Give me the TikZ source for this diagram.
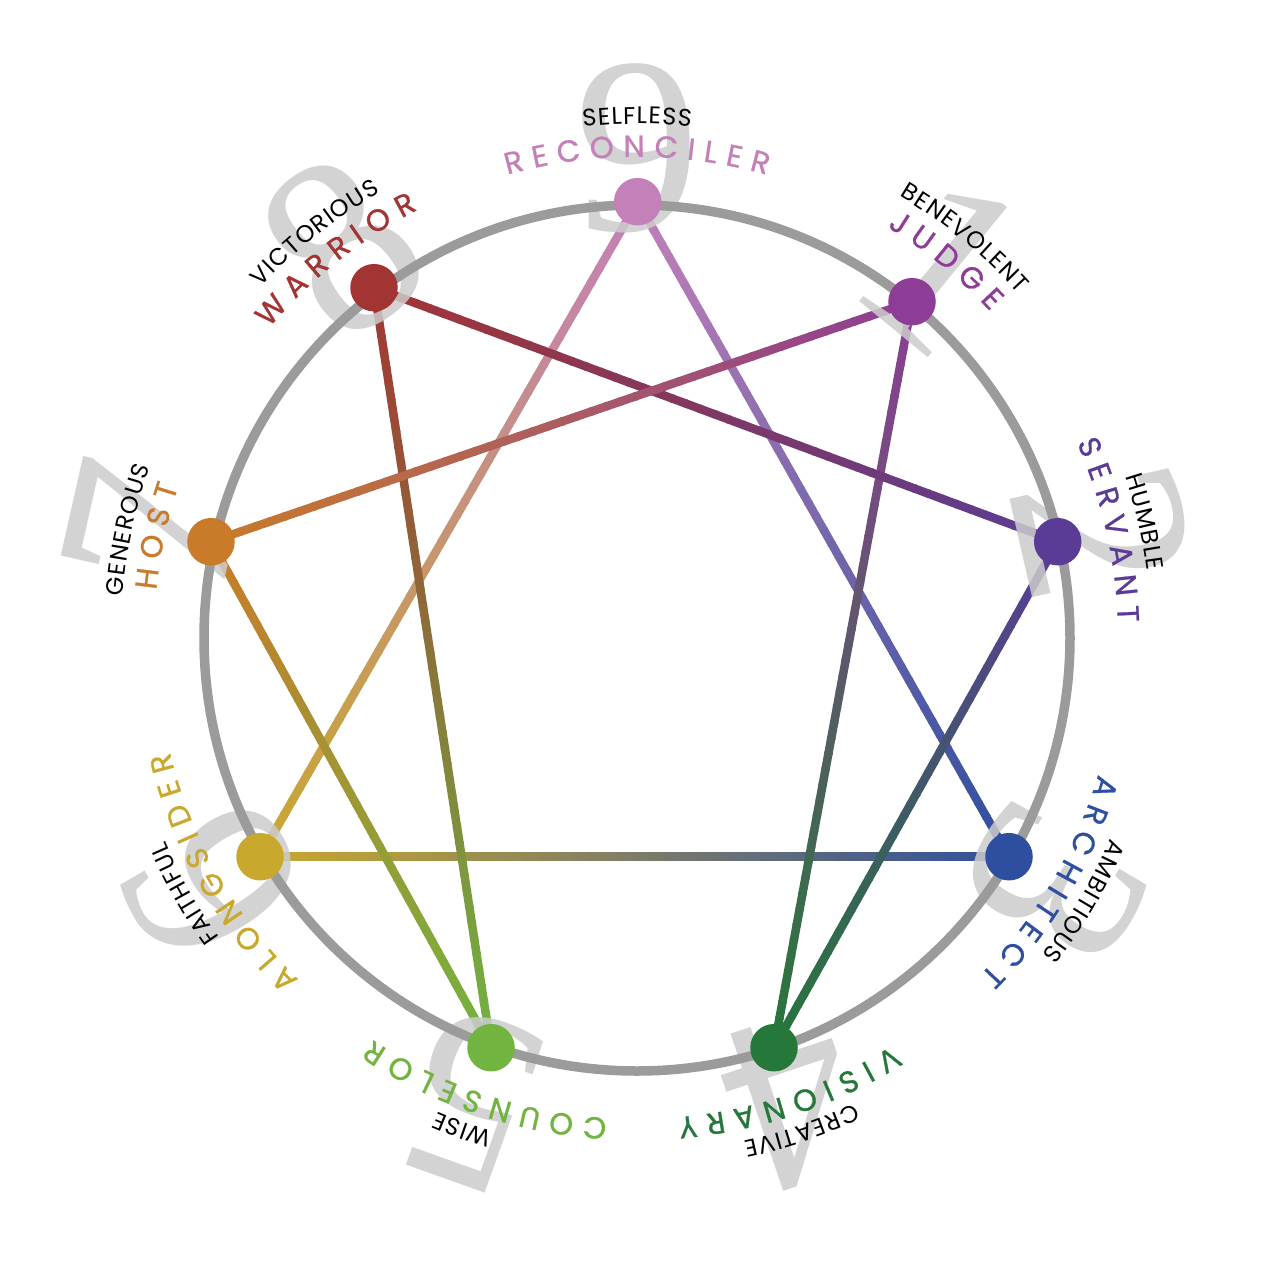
\documentclass[tikz,border=0pt]{standalone}
\usepackage{fontspec}
\setmainfont{Liberation Serif}
\usetikzlibrary{calc,decorations.text}
\newfontfamily\popf{Poppins}
\newfontfamily\popm{Poppins}[FakeBold=0.8]
\definecolor{cA}{RGB}{196,128,185}
\definecolor{cB}{RGB}{142,61,150}
\definecolor{cC}{RGB}{90,60,150}
\definecolor{cD}{RGB}{46,79,160}
\definecolor{cE}{RGB}{38,119,58}
\definecolor{cF}{RGB}{113,180,63}
\definecolor{cG}{RGB}{201,168,46}
\definecolor{cH}{RGB}{201,123,42}
\definecolor{cI}{RGB}{163,52,52}
\definecolor{ringgray}{RGB}{155,155,155}
\definecolor{diggray}{RGB}{204,204,204}
\newcommand{\mfont}{\popm\fontsize{30.5}{30.5}\selectfont}
\newcommand{\dfont}{\popf\fontsize{24}{24}\selectfont}
\newcommand{\trk}{\kern9pt}
\newcommand{\dk}{\kern1.2pt}
\tikzset{
  conn/.style={line width=8.5pt},
  ring/.style={draw=ringgray, line width=9.5pt},
  dot/.style={circle, minimum size=47.5pt, inner sep=0pt, draw=none},
  digit/.style={font={\rmfamily\fontsize{252}{252}\selectfont}, text=diggray, text opacity=0.85, inner sep=0pt}
}
\newcommand{\gradline}[4]{%
  \foreach \i in {0,...,47}{%
    \pgfmathsetmacro{\ta}{\i/48}%
    \pgfmathsetmacro{\tb}{(\i+1.15)/48}%
    \pgfmathtruncatemacro{\pc}{100-(\i+0.5)*100/48}%
    \draw[conn, draw=#3!\pc!#4] ($(#1)!\ta!(#2)$) -- ($(#1)!\tb!(#2)$);
  }}
\newcommand{\arclabel}[3]{%
  \pgfmathsetmacro{\phs}{90-#1+70}%
  \pgfmathsetmacro{\phe}{90-#1-70}%
  \path[decorate, decoration={text along path, text={#3}, text align=center}]
     ($(C)+(\phs:#2)$) arc[start angle=\phs, end angle=\phe, radius=#2];
}
\begin{document}
\begin{tikzpicture}[x=1pt,y=1pt]
\fill[white] (0,0) rectangle (1275,-1275);
\useasboundingbox (0,0) rectangle (1275,-1275);
\coordinate (C) at (637,-638);
\coordinate (p9) at (637.7,-201.7);
\coordinate (p1) at (912,-301.7);
\coordinate (p2) at (1057.7,-541.7);
\coordinate (p3) at (1009,-856.7);
\coordinate (p4) at (774,-1047.7);
\coordinate (p5) at (491,-1047.7);
\coordinate (p6) at (260,-856.7);
\coordinate (p7) at (211,-541.7);
\coordinate (p8) at (374,-287.7);
% connectors
\gradline{p9}{p3}{cA}{cD}
\gradline{p3}{p6}{cD}{cG}
\gradline{p6}{p9}{cG}{cA}
\gradline{p1}{p4}{cB}{cE}
\gradline{p4}{p2}{cE}{cC}
\gradline{p2}{p8}{cC}{cI}
\gradline{p8}{p5}{cI}{cF}
\gradline{p5}{p7}{cF}{cH}
\gradline{p7}{p1}{cH}{cB}
% digits
\node[digit] (g9) at ($(C)+(89.9:490)$) {9};
\node[digit, rotate=-39.3] (g1) at ($(C)+(50.7:484)$) {1};
\node[digit, rotate=-77.1] (g2) at ($(C)+(12.9:478)$) {2};
\node[digit, rotate=-120.5] (g3) at ($(C)+(-30.5:485)$) {3};
\node[digit, rotate=-161.5] (g4) at ($(C)+(-71.5:488)$) {4};
\node[digit, rotate=-199.6] (g5) at ($(C)+(-109.6:490)$) {5};
\node[digit, rotate=-239.9] (g6) at ($(C)+(-149.9:490)$) {6};
\node[digit, rotate=-282.7] (g7) at ($(C)+(167.3:497)$) {7};
\node[digit, rotate=-323.1] (g8) at ($(C)+(126.9:490)$) {8};
% ring
\draw[ring] (C) circle[radius=433];
% dots
\node[dot, fill=cA] (n9) at (p9) {};
\node[dot, fill=cB] (n1) at (p1) {};
\node[dot, fill=cC] (n2) at (p2) {};
\node[dot, fill=cD] (n3) at (p3) {};
\node[dot, fill=cE] (n4) at (p4) {};
\node[dot, fill=cF] (n5) at (p5) {};
\node[dot, fill=cG] (n6) at (p6) {};
\node[dot, fill=cH] (n7) at (p7) {};
\node[dot, fill=cI] (n8) at (p8) {};
% labels
\arclabel{0}{481}{|\mfont\color{cA}|R{\trk}E{\trk}C{\trk}O{\trk}N{\trk}C{\trk}I{\trk}L{\trk}E{\trk}R}
\arclabel{0}{514}{|\dfont\color{black}|S{\dk}E{\dk}L{\dk}F{\dk}L{\dk}E{\dk}S{\dk}S}
\arclabel{39.3}{481}{|\mfont\color{cB}|J{\trk}U{\trk}D{\trk}G{\trk}E}
\arclabel{39.3}{514}{|\dfont\color{black}|B{\dk}E{\dk}N{\dk}E{\dk}V{\dk}O{\dk}L{\dk}E{\dk}N{\dk}T}
\arclabel{77.1}{481}{|\mfont\color{cC}|S{\trk}E{\trk}R{\trk}V{\trk}A{\trk}N{\trk}T}
\arclabel{77.1}{514}{|\dfont\color{black}|H{\dk}U{\dk}M{\dk}B{\dk}L{\dk}E}
\arclabel{120.5}{481}{|\mfont\color{cD}|A{\trk}R{\trk}C{\trk}H{\trk}I{\trk}T{\trk}E{\trk}C{\trk}T}
\arclabel{120.5}{514}{|\dfont\color{black}|A{\dk}M{\dk}B{\dk}I{\dk}T{\dk}I{\dk}O{\dk}U{\dk}S}
\arclabel{161.5}{481}{|\mfont\color{cE}|V{\trk}I{\trk}S{\trk}I{\trk}O{\trk}N{\trk}A{\trk}R{\trk}Y}
\arclabel{161.5}{514}{|\dfont\color{black}|C{\dk}R{\dk}E{\dk}A{\dk}T{\dk}I{\dk}V{\dk}E}
\arclabel{198.5}{481}{|\mfont\color{cF}|C{\trk}O{\trk}U{\trk}N{\trk}S{\trk}E{\trk}L{\trk}O{\trk}R}
\arclabel{199.6}{514}{|\dfont\color{black}|W{\dk}I{\dk}S{\dk}E}
\arclabel{240.5}{481}{|\mfont\color{cG}|A{\trk}L{\trk}O{\trk}N{\trk}G{\trk}S{\trk}I{\trk}D{\trk}E{\trk}R}
\arclabel{240.5}{514}{|\dfont\color{black}|F{\dk}A{\dk}I{\dk}T{\dk}H{\dk}F{\dk}U{\dk}L}
\arclabel{282}{483}{|\mfont\color{cH}|H{\trk}O{\trk}S{\trk}T}
\arclabel{282}{516}{|\dfont\color{black}|G{\dk}E{\dk}N{\dk}E{\dk}R{\dk}O{\dk}U{\dk}S}
\arclabel{321.5}{481}{|\mfont\color{cI}|W{\trk}A{\trk}R{\trk}R{\trk}I{\trk}O{\trk}R}
\arclabel{321.5}{514}{|\dfont\color{black}|V{\dk}I{\dk}C{\dk}T{\dk}O{\dk}R{\dk}I{\dk}O{\dk}U{\dk}S}
\end{tikzpicture}
\end{document}
